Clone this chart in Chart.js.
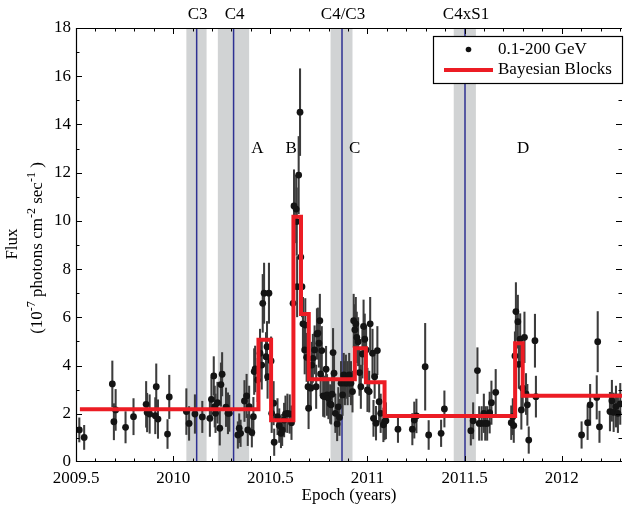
<!DOCTYPE html>
<html>
<head>
<meta charset="utf-8">
<script src="https://cdn.jsdelivr.net/npm/chart.js@4.4.1/dist/chart.umd.min.js"></script>
<style>
html, body { margin: 0; padding: 0; background: #fff; }
#wrap { width: 626px; height: 508px; }
</style>
</head>
<body>
<div id="wrap"><canvas id="lightCurve" width="626" height="508"></canvas></div>
<script>
// light curve points (epoch in years, flux in 1e-7 ph cm^-2 s^-1)
const epoch = [
    2009.517, 2009.542, 2009.687, 2009.695, 2009.704, 2009.755, 2009.796, 2009.861, 2009.866, 2009.879,
    2009.908, 2009.913, 2009.922, 2009.971, 2009.980, 2010.068, 2010.082, 2010.112, 2010.150, 2010.189,
    2010.197, 2010.209, 2010.214, 2010.218, 2010.228, 2010.240, 2010.246, 2010.252, 2010.272, 2010.282,
    2010.289, 2010.333, 2010.340, 2010.347, 2010.367, 2010.378, 2010.384, 2010.391, 2010.405, 2010.413,
    2010.417, 2010.422, 2010.435, 2010.447, 2010.456, 2010.461, 2010.468, 2010.478, 2010.483, 2010.486,
    2010.493, 2010.504, 2010.507, 2010.517, 2010.520, 2010.537, 2010.546, 2010.555, 2010.561, 2010.571,
    2010.578, 2010.588, 2010.600, 2010.609, 2010.617, 2010.622, 2010.633, 2010.636, 2010.638, 2010.646,
    2010.653, 2010.657, 2010.663, 2010.668, 2010.677, 2010.680, 2010.687, 2010.694, 2010.697, 2010.708,
    2010.714, 2010.719, 2010.728, 2010.736, 2010.740, 2010.745, 2010.750, 2010.755, 2010.759, 2010.765,
    2010.772, 2010.779, 2010.787, 2010.792, 2010.799, 2010.808, 2010.813, 2010.818, 2010.823, 2010.828,
    2010.835, 2010.844, 2010.850, 2010.856, 2010.864, 2010.872, 2010.878, 2010.884, 2010.889, 2010.898,
    2010.906, 2010.915, 2010.923, 2010.929, 2010.935, 2010.940, 2010.945, 2010.952, 2010.959, 2010.966,
    2010.974, 2010.980, 2010.986, 2010.993, 2011.000, 2011.009, 2011.014, 2011.026, 2011.031, 2011.037,
    2011.044, 2011.051, 2011.060, 2011.068, 2011.082, 2011.088, 2011.095, 2011.157, 2011.231, 2011.241,
    2011.252, 2011.297, 2011.315, 2011.379, 2011.396, 2011.532, 2011.544, 2011.566, 2011.575, 2011.588,
    2011.599, 2011.606, 2011.616, 2011.629, 2011.638, 2011.660, 2011.740, 2011.748, 2011.753, 2011.759,
    2011.764, 2011.774, 2011.779, 2011.786, 2011.792, 2011.799, 2011.808, 2011.816, 2011.823, 2011.830,
    2011.862, 2011.867, 2012.102, 2012.133, 2012.146, 2012.180, 2012.185, 2012.194, 2012.248, 2012.258,
    2012.267, 2012.279, 2012.289, 2012.301
];
const flux = [
    1.33, 1.02, 3.24, 1.67, 2.16, 1.44, 1.88, 2.39, 2.05, 1.99,
    1.92, 3.12, 1.78, 1.16, 2.70, 2.09, 1.60, 1.99, 1.87, 1.81,
    2.60, 3.57, 2.30, 2.02, 2.46, 1.40, 3.21, 3.64, 2.27, 2.02,
    2.02, 1.12, 1.40, 1.19, 2.53, 2.74, 1.33, 2.30, 1.22, 1.88,
    3.75, 3.86, 3.40, 4.51, 4.02, 6.58, 7.00, 4.37, 4.78, 3.54,
    7.00, 4.19, 2.02, 2.44, 0.82, 1.88, 1.51, 1.19, 1.33, 1.74,
    1.99, 2.02, 1.99, 1.63, 6.58, 10.62, 10.49, 9.97, 7.27, 11.90,
    14.51, 8.50, 7.27, 5.73, 4.65, 5.68, 4.34, 3.12, 2.23, 3.06,
    4.02, 4.30, 4.65, 3.12, 5.31, 5.34, 4.93, 5.86, 3.65, 4.62,
    2.74, 2.71, 3.85, 2.78, 2.64, 2.41, 2.37, 2.81, 4.54, 3.68,
    2.02, 1.58, 2.29, 1.85, 3.27, 2.78, 3.61, 3.27, 3.54, 3.27,
    3.61, 3.27, 2.92, 5.86, 5.48, 5.73, 5.17, 4.99, 3.71, 3.12,
    4.48, 5.62, 5.09, 4.65, 2.99, 2.92, 5.73, 4.51, 1.81, 3.54,
    1.61, 4.62, 2.50, 2.02, 1.54, 1.67, 1.71, 1.36, 1.36, 1.74,
    1.91, 3.95, 1.12, 1.19, 2.20, 1.30, 1.71, 3.79, 1.60, 1.60,
    2.02, 1.60, 1.60, 2.05, 2.46, 2.89, 1.63, 1.88, 1.51, 4.40,
    6.24, 5.82, 4.05, 5.10, 2.16, 3.06, 5.17, 2.82, 2.37, 0.91,
    5.03, 2.71, 1.12, 1.63, 2.37, 2.68, 4.99, 1.46, 2.09, 2.54,
    2.06, 2.30, 2.02, 2.41
];
const fluxErr = [
    0.50, 0.50, 0.95, 0.75, 0.85, 0.65, 0.75, 0.95, 0.80, 0.80,
    0.75, 0.95, 0.80, 0.60, 0.90, 0.95, 0.70, 0.80, 0.65, 0.75,
    0.90, 0.80, 0.85, 0.80, 0.85, 0.70, 0.90, 0.90, 0.80, 0.85,
    0.75, 0.55, 0.60, 0.55, 0.85, 0.90, 0.65, 0.85, 0.60, 0.80,
    0.95, 0.95, 0.90, 1.00, 1.00, 1.20, 1.25, 1.00, 1.05, 0.90,
    1.25, 1.00, 0.80, 0.90, 0.55, 0.75, 0.70, 0.60, 0.65, 0.70,
    0.75, 0.80, 0.80, 0.70, 1.20, 1.50, 1.40, 1.40, 1.25, 1.60,
    1.80, 1.40, 1.25, 1.10, 1.00, 1.10, 1.00, 0.90, 0.85, 0.90,
    0.95, 1.00, 1.00, 0.90, 1.05, 1.05, 1.00, 1.10, 0.90, 1.00,
    0.85, 0.85, 0.95, 0.85, 0.85, 0.80, 0.80, 0.85, 1.00, 0.95,
    0.80, 0.70, 0.80, 0.75, 0.90, 0.85, 0.90, 0.90, 0.90, 0.90,
    0.90, 0.90, 0.85, 1.10, 1.05, 1.10, 1.05, 1.00, 0.95, 0.90,
    1.00, 1.10, 1.05, 1.00, 0.90, 0.85, 1.10, 1.00, 0.75, 0.90,
    0.70, 1.00, 0.85, 0.80, 0.70, 0.75, 0.75, 0.55, 0.65, 0.75,
    0.70, 1.80, 0.60, 0.55, 0.75, 0.60, 0.75, 0.95, 0.70, 0.70,
    0.80, 0.70, 0.70, 0.85, 0.90, 0.95, 0.70, 0.75, 0.70, 1.00,
    1.20, 1.10, 1.00, 1.05, 0.80, 0.90, 1.05, 0.85, 0.85, 0.55,
    1.10, 0.85, 0.55, 0.70, 0.85, 0.90, 1.25, 0.65, 0.80, 0.85,
    0.80, 0.85, 0.80, 0.85
];

// bayesian blocks: start of each block and its level (last entry closes the final block)
const blockStart = [2009.52, 2010.439, 2010.504, 2010.619, 2010.658, 2010.698, 2010.935, 2010.992, 2011.088, 2011.760, 2011.799, 2012.32];
const blockFlux = [2.19, 5.07, 1.73, 10.17, 6.14, 3.43, 4.72, 3.31, 1.91, 4.92, 2.75, 2.75];

// observing windows (grey bands) with their markers and names
const obsStart = [2010.068, 2010.230, 2010.810, 2011.444];
const obsEnd = [2010.172, 2010.391, 2010.923, 2011.558];
const obsMark = [2010.121, 2010.311, 2010.869, 2011.502];
const obsLabels = ["C3", "C4", "C4/C3", "C4xS1"];

// flare phases
const phaseEpoch = [2010.434, 2010.607, 2010.934, 2011.801];
const phaseLabels = ["A", "B", "C", "D"];
const phaseLevel = 13;

const xTicks = [2009.5, 2010, 2010.5, 2011, 2011.5, 2012];
const yTicks = [0, 2, 4, 6, 8, 10, 12, 14, 16, 18];

const serif = "'Liberation Serif', 'DejaVu Serif', serif";
Chart.defaults.font.family = serif;
Chart.defaults.color = '#000';

const decor = {
    id: 'decor',
    beforeDatasetsDraw(chart) {
        const {ctx, chartArea: a, scales: {x}} = chart;
        ctx.save();
        ctx.beginPath();
        ctx.rect(a.left, a.top, a.right - a.left, a.bottom - a.top);
        ctx.clip();
        ctx.fillStyle = '#d1d3d4';
        for (let i = 0; i < obsStart.length; i++) {
            const x0 = x.getPixelForValue(obsStart[i]);
            const x1 = x.getPixelForValue(obsEnd[i]);
            ctx.fillRect(x0, a.top, x1 - x0, a.bottom - a.top);
        }
        ctx.strokeStyle = '#2e3192';
        ctx.lineWidth = 1.5;
        for (let i = 0; i < obsMark.length; i++) {
            const xm = x.getPixelForValue(obsMark[i]);
            ctx.beginPath();
            ctx.moveTo(xm, a.top);
            ctx.lineTo(xm, a.bottom);
            ctx.stroke();
        }
        ctx.restore();
    },
    afterDatasetsDraw(chart) {
        const {ctx, chartArea: a, scales: {x, y}} = chart;
        ctx.save();
        // frame
        ctx.strokeStyle = '#000';
        ctx.lineWidth = 1.2;
        ctx.beginPath();
        ctx.moveTo(a.right, a.top + 0.5);
        ctx.lineTo(a.left + 0.5, a.top + 0.5);
        ctx.lineTo(a.left + 0.5, a.bottom - 0.5);
        ctx.lineTo(a.right, a.bottom - 0.5);
        ctx.stroke();
        // inward ticks
        ctx.lineWidth = 1;
        ctx.beginPath();
        for (let k = 1; k <= 28; k++) {
            const px = Math.round(x.getPixelForValue(2009.5 + k / 10)) + 0.5;
            const len = k % 5 === 0 ? 6 : 3.5;
            ctx.moveTo(px, a.top); ctx.lineTo(px, a.top + len);
            ctx.moveTo(px, a.bottom); ctx.lineTo(px, a.bottom - len);
        }
        for (let v = 1; v < 18; v++) {
            const py = Math.round(y.getPixelForValue(v)) + 0.5;
            const len = v % 2 === 0 ? 6 : 3.5;
            ctx.moveTo(a.left, py); ctx.lineTo(a.left + len, py);
            ctx.moveTo(a.right, py); ctx.lineTo(a.right - len, py);
        }
        ctx.stroke();

        ctx.fillStyle = '#000';
        ctx.font = '17px ' + serif;
        ctx.textAlign = 'center';
        ctx.textBaseline = 'middle';
        // window names above the frame
        for (let i = 0; i < obsMark.length; i++) {
            ctx.fillText(obsLabels[i], x.getPixelForValue(obsMark[i]) + 1, 15);
        }
        // phase letters
        for (let i = 0; i < phaseEpoch.length; i++) {
            ctx.fillText(phaseLabels[i], x.getPixelForValue(phaseEpoch[i]), y.getPixelForValue(phaseLevel));
        }

        // legend box
        ctx.fillStyle = '#fff';
        ctx.fillRect(433.5, 36.5, 189, 47);
        ctx.strokeStyle = '#000';
        ctx.lineWidth = 1.2;
        ctx.strokeRect(433.5, 36.5, 189, 47);
        ctx.fillStyle = '#111';
        ctx.beginPath();
        ctx.arc(468.5, 49.5, 2.8, 0, Math.PI * 2);
        ctx.fill();
        ctx.strokeStyle = '#ec1c24';
        ctx.lineWidth = 4;
        ctx.beginPath();
        ctx.moveTo(444, 70);
        ctx.lineTo(493, 70);
        ctx.stroke();
        ctx.fillStyle = '#000';
        ctx.textAlign = 'left';
        ctx.fillText('0.1-200 GeV', 498, 49.5);
        ctx.fillText('Bayesian Blocks', 498, 70);

        // y axis title, rotated
        ctx.textBaseline = 'alphabetic';
        ctx.translate(17, 244);
        ctx.rotate(-Math.PI / 2);
        ctx.textAlign = 'center';
        ctx.font = '17px ' + serif;
        ctx.fillText('Flux', 0, 0);
        ctx.rotate(Math.PI / 2);
        ctx.translate(25, 4);
        ctx.rotate(-Math.PI / 2);
        const parts = [['(10', 0], ['-7', 1], [' photons cm', 0], ['-2', 1], [' sec', 0], ['-1', 1], [' )', 0]];
        const big = '17px ' + serif, small = '12px ' + serif;
        let total = 0;
        parts.forEach(p => { ctx.font = p[1] ? small : big; total += ctx.measureText(p[0]).width; });
        let cx = -total / 2;
        ctx.textAlign = 'left';
        parts.forEach(p => {
            ctx.font = p[1] ? small : big;
            ctx.fillText(p[0], cx, p[1] ? -7 : 0);
            cx += ctx.measureText(p[0]).width;
        });
        ctx.restore();
    }
};

const ctx1 = document.getElementById("lightCurve");

const lightCurve = new Chart(ctx1, {
    type: 'scatter',
    data: {
        datasets: [
            {
                type: 'line',
                label: 'Bayesian Blocks',
                data: blockStart.map((t, i) => ({x: t, y: blockFlux[i]})),
                stepped: 'before',
                borderColor: '#ec1c24',
                borderWidth: 4,
                borderJoinStyle: 'miter',
                pointRadius: 0,
                fill: false,
                order: 0
            },
            {
                label: '0.1-200 GeV',
                data: epoch.map((t, i) => ({x: t, y: flux[i]})),
                pointRadius: 3.4,
                pointBackgroundColor: '#141414',
                pointBorderWidth: 0,
                order: 1
            },
            {
                type: 'bar',
                label: 'errors',
                data: epoch.map((t, i) => ({x: t, y: [flux[i] - fluxErr[i], flux[i] + fluxErr[i]]})),
                backgroundColor: '#3c3c3c',
                barThickness: 1.4,
                grouped: false,
                order: 2
            }
        ]
    },
    options: {
        responsive: false,
        animation: false,
        devicePixelRatio: 1,
        layout: {padding: {top: 28, left: 0, right: 0, bottom: 0}},
        plugins: {legend: {display: false}, tooltip: {enabled: false}},
        scales: {
            x: {
                type: 'linear',
                min: 2009.5,
                max: 2012.31,
                offset: false,
                grid: {display: false, drawTicks: false},
                border: {display: false},
                afterBuildTicks: s => { s.ticks = xTicks.map(v => ({value: v})); },
                afterFit: s => { s.height = 46; },
                ticks: {
                    color: '#000',
                    font: {size: 17},
                    padding: 6,
                    maxRotation: 0,
                    autoSkip: false,
                    callback: v => String(v)
                },
                title: {
                    display: true,
                    text: 'Epoch (years)',
                    color: '#000',
                    font: {size: 17},
                    padding: {top: 0, bottom: 2}
                }
            },
            y: {
                type: 'linear',
                min: 0,
                max: 18,
                grid: {display: false, drawTicks: false},
                border: {display: false},
                afterBuildTicks: s => { s.ticks = yTicks.map(v => ({value: v})); },
                afterFit: s => { s.width = 76; },
                ticks: {
                    color: '#000',
                    font: {size: 17},
                    padding: 5,
                    callback: v => String(v)
                }
            }
        }
    },
    plugins: [decor]
});
</script>
</body>
</html>
